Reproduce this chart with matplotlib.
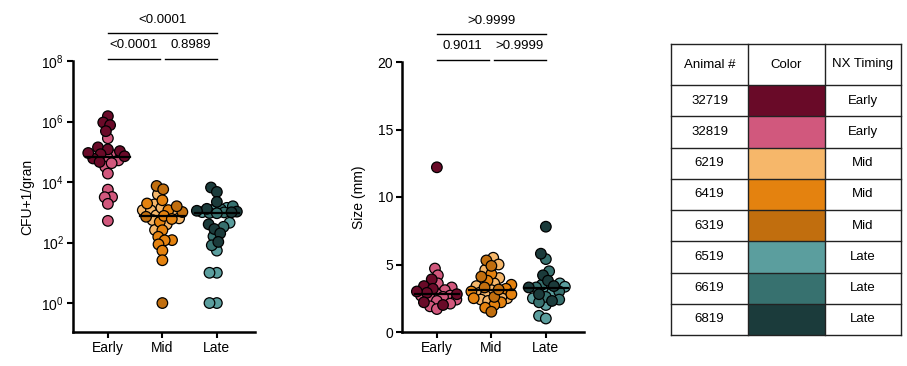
import numpy as np
import matplotlib
matplotlib.use("Agg")
import matplotlib.pyplot as plt
from matplotlib.patches import Rectangle
from matplotlib.transforms import blended_transform_factory

plt.rcParams['font.family'] = ['Liberation Sans', 'DejaVu Sans']
plt.rcParams['mathtext.default'] = 'regular'

groups = ['Early', 'Mid', 'Late']

animals = ['32719', '32819', '6219', '6419', '6319', '6519', '6619', '6819']
animal_colors = ['#690a28', '#d1587d', '#f6b76a', '#e4820f', '#c16e0e',
                 '#5b9e9e', '#37716f', '#1b3b3b']
nx_timing = ['Early', 'Early', 'Mid', 'Mid', 'Mid', 'Late', 'Late', 'Late']

# draw order inside each group (lighter animals first, darker on top)
draw_order = {'Early': ['32819', '32719'],
              'Mid': ['6219', '6419', '6319'],
              'Late': ['6519', '6619', '6819']}

# CFU+1 per granuloma
cfu_32719 = [1.5e6, 9.3e5, 7.6e5, 4.8e5, 1.4e5, 1.2e5, 1.05e5, 8.3e4, 7.1e4, 6.0e4, 4.6e4, 9.1e4]
cfu_32819 = [2.8e5, 7.6e4, 6.6e4, 5.2e4, 3.2e4, 1.9e4, 5600, 3200, 3150, 1900, 520, 4.2e4]
cfu_6219 = [3900, 1820, 1170, 1150, 930, 790, 550, 630, 260, 1410, 400]
cfu_6419 = [1950, 1180, 480, 255, 155, 120, 118, 87, 54, 26, 760, 2500, 600]
cfu_6319 = [7400, 5750, 1020, 1, 1580, 710]
cfu_6519 = [1200, 1010, 1400, 54, 10, 10, 1, 1, 450]
cfu_6619 = [1260, 990, 950, 930, 330, 160, 81, 1580]
cfu_6819 = [6600, 4700, 2200, 1300, 1120, 1050, 1000, 400, 280, 200, 105]

# granuloma size (mm)
size_32719 = [12.2, 3.9, 3.4, 3.2, 2.9, 2.8, 2.2, 2.0, 3.0]
size_32819 = [4.7, 4.2, 3.6, 3.3, 3.1, 2.8, 2.7, 2.7, 2.6, 2.5, 2.4, 2.3, 2.1, 1.9, 1.7]
size_6219 = [5.5, 5.0, 4.6, 4.0, 3.6, 3.4, 3.1, 2.9, 2.7, 2.5, 2.4, 2.3, 2.6]
size_6419 = [4.3, 3.8, 3.5, 3.2, 3.0, 2.8, 2.5, 2.2, 2.0, 1.8]
size_6319 = [5.3, 4.9, 4.1, 3.3, 2.6, 1.5, 3.15]
size_6519 = [3.6, 3.2, 3.35, 2.9, 2.5, 2.0, 1.2, 1.0]
size_6619 = [5.4, 4.5, 3.5, 3.3, 3.0, 2.6, 2.4, 2.2]
size_6819 = [7.8, 5.8, 4.2, 3.8, 3.4, 3.3, 2.8, 2.3]

cfu = dict(zip(animals, [cfu_32719, cfu_32819, cfu_6219, cfu_6419, cfu_6319,
                         cfu_6519, cfu_6619, cfu_6819]))
size = dict(zip(animals, [size_32719, size_32819, size_6219, size_6419, size_6319,
                          size_6519, size_6619, size_6819]))
color_of = dict(zip(animals, animal_colors))

cfu_pvals = ['<0.0001', '0.8989', '<0.0001']   # Early-Mid, Mid-Late, Early-Late
size_pvals = ['0.9011', '>0.9999', '>0.9999']

MS = 58          # marker area, pt^2
DIAM_PX = 10.5   # marker diameter in pixels at dpi 100
MAX_HALF = 20.0  # widest sideways shift of a point, pixels


def swarm_offsets(ax, x0, yvals, spacing, maxw):
    """beeswarm with a width cap: past the cap, take the least crowded slot"""
    pts = ax.transData.transform(np.column_stack([np.full(len(yvals), x0), yvals]))
    cx = pts[0, 0]
    ypx = pts[:, 1]
    order = np.argsort(ypx)
    placed = []
    xs = np.zeros(len(yvals))
    grid = np.linspace(-maxw, maxw, 21)
    for i in order:
        y = ypx[i]
        cands = [0.0]
        for (px, py) in placed:
            dy = y - py
            if abs(dy) < spacing:
                dx = np.sqrt(spacing ** 2 - dy ** 2)
                cands += [px + dx, px - dx]
        cands = sorted(cands, key=lambda c: (abs(c), c))
        best = None
        for c in cands:
            if abs(c) > maxw:
                break
            if all((c - px) ** 2 + (y - py) ** 2 >= spacing ** 2 - 1e-6
                   for (px, py) in placed):
                best = c
                break
        if best is None:
            def gap(c):
                return min(((c - px) ** 2 + (y - py) ** 2 for (px, py) in placed),
                           default=1e9)
            best = max(grid, key=lambda c: (gap(c), -abs(c)))
        placed.append((best, y))
        xs[i] = best
    disp = np.column_stack([cx + xs, ypx])
    return ax.transData.inverted().transform(disp)[:, 0]


def draw_panel(ax, data):
    for gi, g in enumerate(groups):
        vals, cols = [], []
        for a in draw_order[g]:
            vals += data[a]
            cols += [color_of[a]] * len(data[a])
        vals = np.array(vals, dtype=float)
        xs = swarm_offsets(ax, gi, vals, DIAM_PX * 0.7, MAX_HALF)
        ax.scatter(xs, vals, s=MS, c=cols, edgecolors='black', linewidths=0.9,
                   zorder=3, clip_on=False)
        med = np.median(vals)
        ax.plot([gi - 0.41, gi + 0.41], [med, med], color='black', lw=1.6, zorder=4)


def style_axes(ax):
    for s in ['top', 'right']:
        ax.spines[s].set_visible(False)
    for s in ['left', 'bottom']:
        ax.spines[s].set_linewidth(1.8)
    ax.tick_params(direction='out', length=4.5, width=1.5, labelsize=10, pad=2)
    ax.tick_params(which='minor', length=0)
    ax.set_xlim(-0.64, 2.7)
    ax.set_xticks(range(3))
    ax.set_xticklabels(groups)


def brackets(ax, pvals):
    tr = blended_transform_factory(ax.transData, ax.transAxes)
    kw = dict(color='black', lw=1.0, transform=tr, clip_on=False)
    ax.plot([0, 0.95], [1.007, 1.007], **kw)
    ax.plot([1.05, 2.0], [1.007, 1.007], **kw)
    ax.plot([0, 2.0], [1.104, 1.104], **kw)
    tk = dict(transform=tr, ha='center', va='center', fontsize=9.5)
    ax.text(0.475, 1.058, pvals[0], **tk)
    ax.text(1.525, 1.058, pvals[1], **tk)
    ax.text(1.0, 1.152, pvals[2], **tk)


fig = plt.figure(figsize=(9.07, 3.66), dpi=100)

# CFU panel
ax1 = fig.add_axes([73 / 907, 1 - 332 / 366, 182 / 907, 271 / 366])
ax1.set_yscale('log')
ax1.set_ylim(10 ** -0.957, 1e8)
ax1.set_yticks([1e0, 1e2, 1e4, 1e6, 1e8])
style_axes(ax1)
ax1.set_ylabel('CFU+1/gran', fontsize=10, labelpad=5)
draw_panel(ax1, cfu)
brackets(ax1, cfu_pvals)

# size panel
ax2 = fig.add_axes([402 / 907, 1 - 332 / 366, 182 / 907, 270 / 366])
ax2.set_ylim(0, 20)
ax2.set_yticks([0, 5, 10, 15, 20])
style_axes(ax2)
ax2.set_ylabel('Size (mm)', fontsize=10, labelpad=8)
draw_panel(ax2, size)
brackets(ax2, size_pvals)

# animal / colour key
tx0, tx1, ty0, ty1 = 671, 901, 44, 335
axt = fig.add_axes([tx0 / 907, 1 - ty1 / 366, (tx1 - tx0) / 907, (ty1 - ty0) / 366])
axt.set_xlim(tx0, tx1)
axt.set_ylim(ty1, ty0)
axt.axis('off')
col_edges = [671, 748, 825, 901]
header_h = 41
row_h = (ty1 - ty0 - header_h) / len(animals)
row_tops = [ty0 + header_h + i * row_h for i in range(len(animals))]
for i, (a, c, t) in enumerate(zip(animals, animal_colors, nx_timing)):
    y = row_tops[i]
    axt.add_patch(Rectangle((col_edges[1], y), col_edges[2] - col_edges[1], row_h,
                            facecolor=c, edgecolor='none'))
    axt.text((col_edges[0] + col_edges[1]) / 2, y + row_h / 2, a,
             ha='center', va='center', fontsize=9.5)
    axt.text((col_edges[2] + col_edges[3]) / 2, y + row_h / 2, t,
             ha='center', va='center', fontsize=9.5)
for j, h in enumerate(['Animal #', 'Color', 'NX Timing']):
    axt.text((col_edges[j] + col_edges[j + 1]) / 2, ty0 + header_h / 2, h,
             ha='center', va='center', fontsize=9.5)
lk = dict(color='#222222', lw=1.0, clip_on=False)
for xe in col_edges:
    axt.plot([xe, xe], [ty0, ty1], **lk)
for ye in [ty0, ty0 + header_h] + row_tops[1:] + [ty1]:
    axt.plot([tx0, tx1], [ye, ye], **lk)

fig.savefig('out.png', dpi=100)
